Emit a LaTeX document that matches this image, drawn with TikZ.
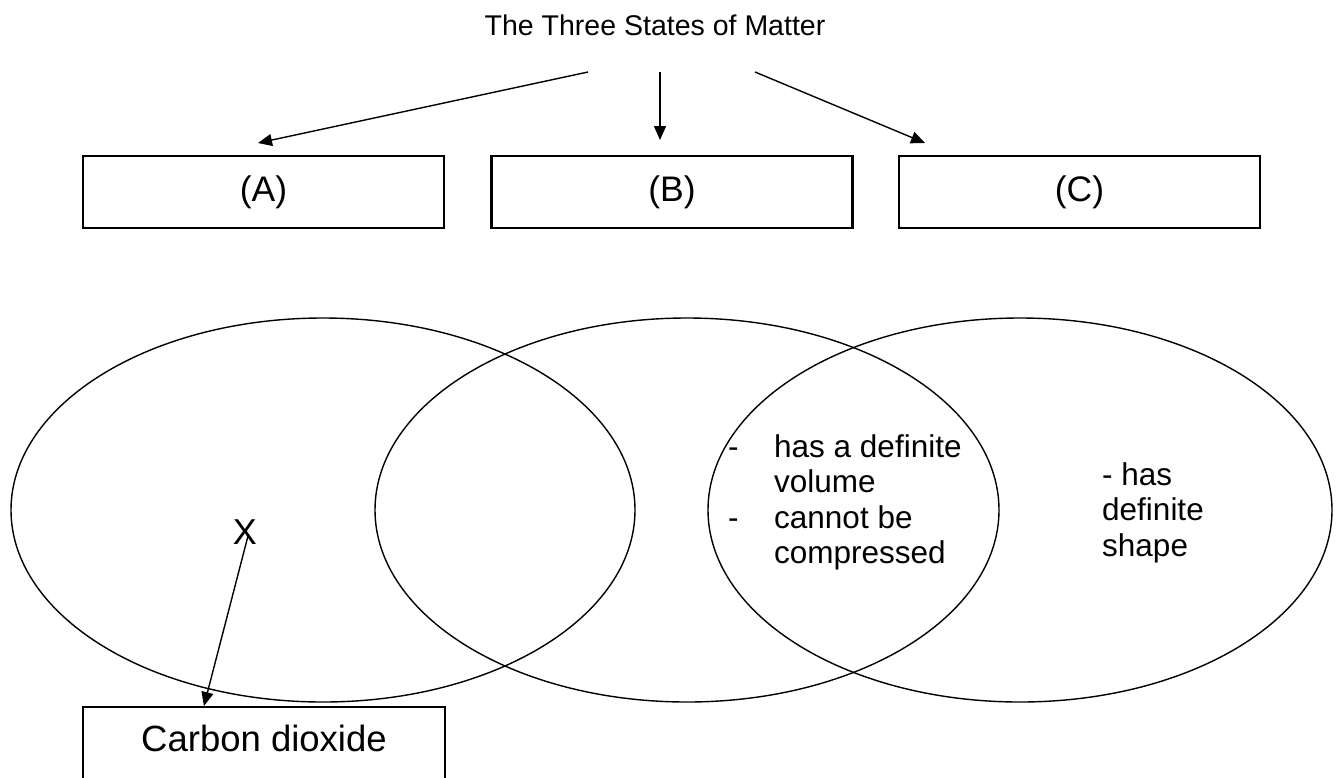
\documentclass[tikz,border=0pt]{standalone}
\usepackage{fontspec}
\setmainfont{Liberation Sans}
\usetikzlibrary{arrows.meta,shapes.geometric,calc}
\begin{document}
\begin{tikzpicture}[x=1pt,y=-1pt,
  boxnode/.style={draw, line width=2.2pt, minimum width=361pt, minimum height=72pt, inner sep=0pt, font=\fontsize{35.5}{40}\selectfont},
  ellnode/.style={draw, ellipse, line width=1.4pt, inner sep=0pt, minimum width=624pt, minimum height=384pt},
  conn/.style={line width=1.4pt, -{Triangle[length=14pt,width=12pt]}},
  elltext/.style={inner sep=0pt, font=\fontsize{31.5}{35.5}\selectfont}
]
\useasboundingbox (0,0) rectangle (1341,777);
% title
\node[font=\fontsize{28.5}{34}\selectfont, anchor=base, inner sep=0pt] (title) at (655,35) {The Three States of Matter};
% boxes
\node[boxnode] (A) at (263.5,192) {(A)};
\node[boxnode] (B) at (672,192) {(B)};
\node[boxnode] (C) at (1079.5,192) {(C)};
% arrow ends
\coordinate (s1) at (588,72);
\coordinate (t1) at (258,143);
\coordinate (s2) at (660,72);
\coordinate (t2) at (660,140);
\coordinate (s3) at (755,72);
\coordinate (t3) at (925,143);
\draw[conn] (s1) -- (t1);
\draw[conn] (s2) -- (t2);
\draw[conn] (s3) -- (t3);
% ellipses
\node[ellnode] (E1) at (323,510) {};
\node[ellnode] (E2) at (687,510) {};
\node[ellnode] (E3) at (1020,510) {};
% texts in ellipses
\node[elltext, anchor=base west] (lens) at (728,457) {\begin{tabular}[t]{@{}p{46pt}@{}l@{}}-&has a definite\\ &volume\\ -&cannot be\\ &compressed\end{tabular}};
\node[elltext, anchor=base west] (solid) at (1102,485) {\begin{tabular}[t]{@{}l@{}}- has\\ definite\\ shape\end{tabular}};
\node[font=\fontsize{36}{40}\selectfont, inner sep=0pt] (X) at (245,532) {X};
% carbon dioxide box
\node[draw, line width=2.2pt, minimum width=362pt, minimum height=80pt, anchor=north, inner sep=0pt, text height=26pt, text depth=18pt, font=\fontsize{36.5}{42}\selectfont] (co) at (264,706) {Carbon dioxide};
\draw[conn] ($(X.center)+(3,4)$) -- ($(co.north west)+(122,0)$);
\end{tikzpicture}
\end{document}
